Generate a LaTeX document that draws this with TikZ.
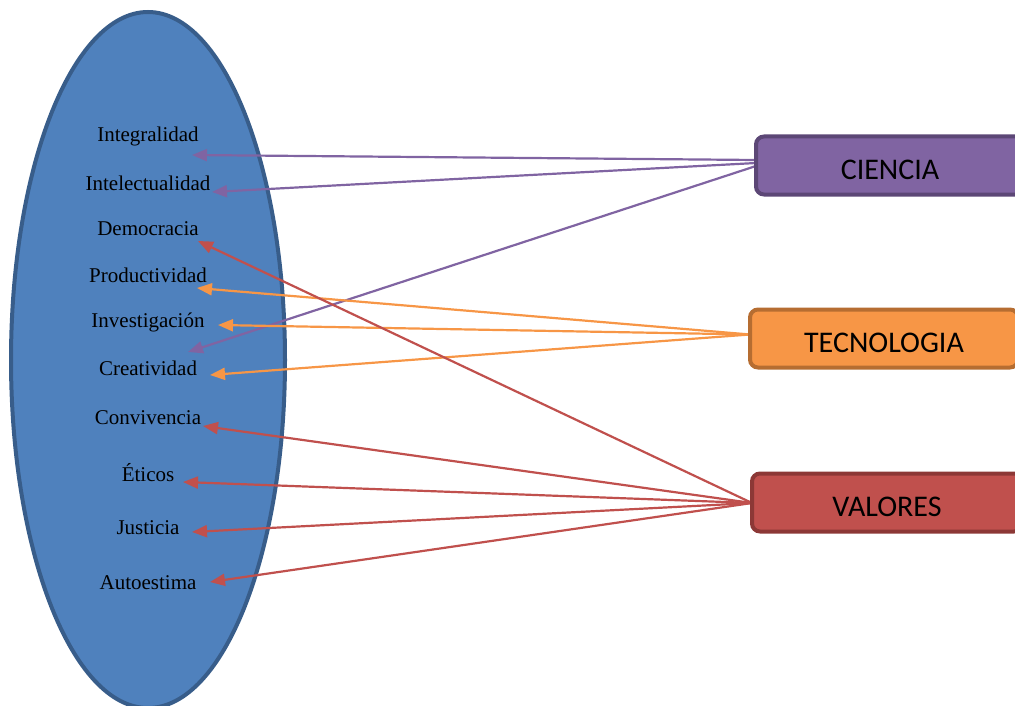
\documentclass[tikz,border=0pt]{standalone}
\usepackage{fontspec}
\setmainfont{Liberation Serif}
\newfontfamily\boxfont{Carlito}
\usetikzlibrary{arrows.meta,calc}
\definecolor{ellfill}{HTML}{4F81BD}
\definecolor{elldraw}{HTML}{385D8A}
\definecolor{cieF}{HTML}{8064A2}
\definecolor{cieD}{HTML}{5C4776}
\definecolor{tecF}{HTML}{F79646}
\definecolor{tecD}{HTML}{B66D31}
\definecolor{valF}{HTML}{C0504D}
\definecolor{valD}{HTML}{8C3836}
\pgfdeclarelayer{bg}
\pgfdeclarelayer{arrowlayer}
\pgfsetlayers{bg,arrowlayer,main}
\begin{document}
\begin{tikzpicture}[x=1pt,y=-1pt,
  lbl/.style={font=\fontsize{21}{25}\selectfont, inner sep=0pt},
  bigbox/.style={rounded corners=8pt, line width=4pt, minimum height=58pt,
    font=\boxfont\fontsize{30}{34}\selectfont, inner sep=0pt,
    text height=27pt, text depth=0pt},
  arr/.style={line width=2.2pt, -{Triangle[length=15pt,width=12pt]}}]
\useasboundingbox (0,0) rectangle (1015,706);
\begin{pgfonlayer}{bg}
\draw[fill=ellfill, draw=elldraw, line width=4pt] (148,360) ellipse [x radius=137, y radius=348];
\end{pgfonlayer}

\node[lbl] (integ) at (148,136) {Integralidad};
\node[lbl] (intel) at (148,183) {Intelectualidad};
\node[lbl] (demo) at (148,229) {Democracia};
\node[lbl] (prod) at (148,275) {Productividad};
\node[lbl] (inve) at (148,322) {Investigación};
\node[lbl] (crea) at (148,368) {Creatividad};
\node[lbl] (conv) at (148,418) {Convivencia};
\node[lbl] (etic) at (148,473) {Éticos};
\node[lbl] (just) at (148,528) {Justicia};
\node[lbl] (auto) at (148,583) {Autoestima};

\coordinate (tInteg) at (192,155);
\coordinate (tIntel) at (212,192);
\coordinate (tCreaP) at (188,352);
\coordinate (tProd) at (197,288);
\coordinate (tInve) at (218,325);
\coordinate (tCrea) at (210,375);
\coordinate (tDemo) at (198,241);
\coordinate (tConv) at (203,426);
\coordinate (tEtic) at (183,482);
\coordinate (tJust) at (192,532);
\coordinate (tAuto) at (210,582);

\node[bigbox, fill=cieF, draw=cieD, minimum width=268pt] (cie) at (890,165.5) {CIENCIA};
\node[bigbox, fill=tecF, draw=tecD, minimum width=268pt] (tec) at (884,338.5) {TECNOLOGIA};
\node[bigbox, fill=valF, draw=valD, minimum width=270pt] (val) at (887,502.5) {VALORES};

\begin{pgfonlayer}{arrowlayer}
\draw[arr, cieF] ($(cie.west)+(2,-5.5)$) -- (tInteg);
\draw[arr, cieF] ($(cie.west)+(2,-2.5)$) -- (tIntel);
\draw[arr, cieF] ($(cie.west)+(2,0.5)$) -- (tCreaP);
\draw[arr, tecF] ($(tec.west)+(2,-4)$) -- (tProd);
\draw[arr, tecF] ($(tec.west)+(2,-4)$) -- (tInve);
\draw[arr, tecF] ($(tec.west)+(2,-4)$) -- (tCrea);
\draw[arr, valF] ($(val.west)+(2,0.5)$) -- (tDemo);
\draw[arr, valF] ($(val.west)+(2,0.5)$) -- (tConv);
\draw[arr, valF] ($(val.west)+(2,0.5)$) -- (tEtic);
\draw[arr, valF] ($(val.west)+(2,0.5)$) -- (tJust);
\draw[arr, valF] ($(val.west)+(2,0.5)$) -- (tAuto);
\end{pgfonlayer}
\end{tikzpicture}
\end{document}
